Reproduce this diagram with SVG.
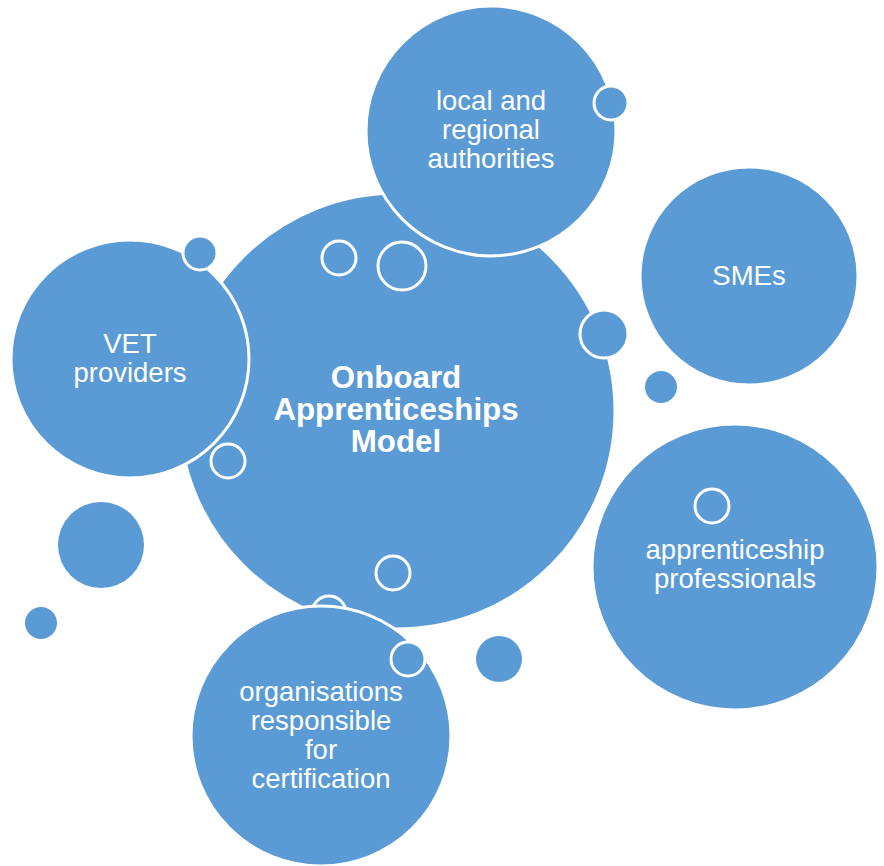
<svg xmlns="http://www.w3.org/2000/svg" width="884" height="866" viewBox="0 0 884 866">
<style>
.c{fill:#5B9BD5;stroke:#FFFFFF;stroke-width:3}
.d{fill:#5B9BD5;stroke:none}
.t{font-family:"Liberation Sans",Arial,sans-serif;font-size:27.5px;fill:#FFFFFF;text-anchor:middle}
.b{font-family:"Liberation Sans",Arial,sans-serif;font-size:31.3px;font-weight:bold;fill:#FFFFFF;text-anchor:middle}
</style>
<rect width="884" height="866" fill="#FFFFFF"/>
<g id="center">
<circle class="c" cx="397" cy="411" r="218"/>
</g>
<g id="bubbles-back">
<circle class="c" cx="339" cy="258" r="17"/>
<circle class="c" cx="402" cy="266" r="24"/>
<circle class="c" cx="393" cy="573" r="17"/>
<circle class="c" cx="329" cy="613" r="17"/>
</g>
<g id="local">
<circle class="c" cx="491" cy="131" r="125"/>
<text class="t"><tspan x="491" y="110">local and</tspan><tspan x="491" y="139">regional</tspan><tspan x="491" y="168">authorities</tspan></text>
</g>
<g id="smes">
<circle class="c" cx="749" cy="276" r="109"/>
<text class="t" x="749" y="285">SMEs</text>
</g>
<g id="vet">
<circle class="c" cx="130" cy="359" r="119"/>
<text class="t"><tspan x="130" y="353">VET</tspan><tspan x="130" y="382">providers</tspan></text>
</g>
<g id="professionals">
<circle class="c" cx="735" cy="567" r="143"/>
<text class="t"><tspan x="735" y="559">apprenticeship</tspan><tspan x="735" y="588">professionals</tspan></text>
</g>
<g id="organisations">
<circle class="c" cx="321" cy="736" r="130"/>
<text class="t"><tspan x="321" y="701">organisations</tspan><tspan x="321" y="730">responsible</tspan><tspan x="321" y="759">for</tspan><tspan x="321" y="788">certification</tspan></text>
</g>
<g id="model">
<text class="b"><tspan x="396" y="388">Onboard</tspan><tspan x="396" y="420">Apprenticeships</tspan><tspan x="396" y="452">Model</tspan></text>
</g>
<g id="bubbles-front">
<circle class="c" cx="611" cy="103" r="17"/>
<circle class="c" cx="200" cy="253" r="17"/>
<circle class="c" cx="604" cy="334" r="24"/>
<circle class="d" cx="661" cy="387" r="16"/>
<circle class="c" cx="712" cy="506" r="17"/>
<circle class="c" cx="228" cy="461" r="17"/>
<circle class="d" cx="101" cy="545" r="43"/>
<circle class="d" cx="41" cy="623" r="16"/>
<circle class="c" cx="408" cy="659" r="17"/>
<circle class="d" cx="499" cy="659" r="23"/>
</g>
<g id="connectors"/>
</svg>
